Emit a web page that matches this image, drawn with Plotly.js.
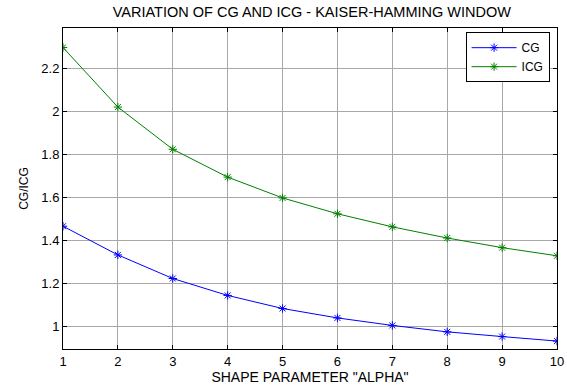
<!DOCTYPE html>
<html>
<head>
<meta charset="utf-8">
<script src="https://cdn.plot.ly/plotly-3.0.1.min.js"></script>
<style>html,body{margin:0;padding:0;background:#fff;}#chart{width:567px;height:385px;}</style>
</head>
<body>
<div id="chart"></div>
<script>
var alpha = [1, 2, 3, 4, 5, 6, 7, 8, 9, 10];
var cg = [1.466, 1.332, 1.222, 1.143, 1.082, 1.038, 1.003, 0.973, 0.951, 0.930];
var icg = [2.300, 2.022, 1.825, 1.695, 1.598, 1.524, 1.463, 1.411, 1.366, 1.328];
var yTicks = [1, 1.2, 1.4, 1.6, 1.8, 2, 2.2];
var yTickText = ['1', '1.2', '1.4', '1.6', '1.8', '2', '2.2'];

var font = 'Liberation Sans, Arial, sans-serif';
var traces = [
  {x: alpha, y: cg, name: 'CG', mode: 'lines+markers', type: 'scatter',
   line: {color: '#0000ff', width: 1},
   marker: {symbol: 'asterisk-open', size: 7, color: '#0000ff', line: {color: '#0000ff', width: 1}}},
  {x: alpha, y: icg, name: 'ICG', mode: 'lines+markers', type: 'scatter',
   line: {color: '#008000', width: 1},
   marker: {symbol: 'asterisk-open', size: 7, color: '#008000', line: {color: '#008000', width: 1}}}
];
var layout = {
  width: 567, height: 385,
  margin: {l: 63, r: 10, t: 28, b: 36},
  paper_bgcolor: '#fff', plot_bgcolor: '#fff',
  font: {family: font, size: 13, color: '#000'},
  title: {text: 'VARIATION OF CG AND ICG - KAISER-HAMMING WINDOW', font: {family: font, size: 14.5, color: '#000'},
          x: 0.55, xanchor: 'center', y: 0.968, yanchor: 'middle'},
  xaxis: {range: [1, 10], tickvals: alpha, ticks: 'inside', ticklen: 4, tickcolor: '#000',
          showline: true, linecolor: '#000', linewidth: 1, mirror: 'ticks',
          showgrid: true, gridcolor: '#a8a8a8', gridwidth: 1, zeroline: false,
          tickfont: {family: font, size: 13, color: '#000'},
          title: {text: 'SHAPE PARAMETER "ALPHA"', font: {family: font, size: 14, color: '#000'}, standoff: 3}},
  yaxis: {range: [0.893, 2.391], tickvals: yTicks, ticktext: yTickText, ticks: 'inside', ticklen: 4, tickcolor: '#000',
          showline: true, linecolor: '#000', linewidth: 1, mirror: 'ticks',
          showgrid: true, gridcolor: '#a8a8a8', gridwidth: 1, zeroline: false,
          tickfont: {family: font, size: 13, color: '#000'},
          title: {text: 'CG/ICG', font: {family: font, size: 12, color: '#000'}, standoff: 10}},
  legend: {x: 0.985, y: 0.987, xanchor: 'right', yanchor: 'top', bgcolor: '#fff',
           bordercolor: '#000', borderwidth: 1, font: {family: font, size: 12, color: '#000'},
           tracegroupgap: 0, itemwidth: 45},
  showlegend: true
};
Plotly.newPlot('chart', traces, layout, {staticPlot: true, displayModeBar: false});
</script>
</body>
</html>
